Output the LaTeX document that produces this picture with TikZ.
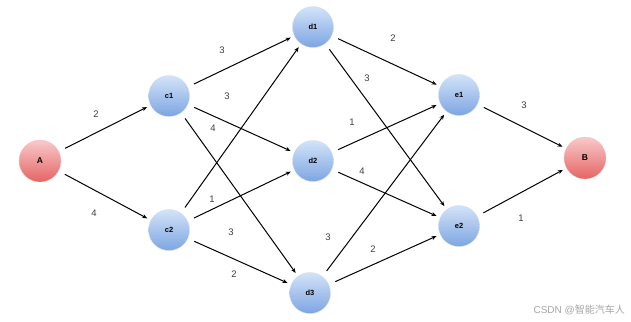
\documentclass[tikz,border=0pt]{standalone}
\usepackage{fontspec}
\setmainfont{Liberation Sans}
\newfontfamily\cjkfont{Noto Sans CJK SC}
\usetikzlibrary{arrows.meta}
\definecolor{bluetop}{HTML}{D3E3F8}
\definecolor{bluebot}{HTML}{7DA5E2}
\definecolor{redtop}{HTML}{F8CACA}
\definecolor{redbot}{HTML}{E56464}
\definecolor{labgray}{HTML}{404040}
\tikzset{
  bnode/.style={circle, minimum size=41pt, inner sep=0pt, top color=bluetop, bottom color=bluebot, draw=bluebot!40, line width=0.3pt, font=\fontsize{7.5}{8}\selectfont\bfseries},
  rnode/.style={circle, minimum size=42pt, inner sep=0pt, top color=redtop, bottom color=redbot, draw=redbot!40, line width=0.3pt, font=\fontsize{8.5}{9}\selectfont\bfseries},
  edge/.style={draw=black, line width=1pt, -{Stealth[length=5pt,width=4pt]}, shorten <=7pt, shorten >=4pt},
  wlab/.style={text=labgray, font=\fontsize{9.5}{10}\selectfont, inner sep=0pt}
}
\begin{document}
\begin{tikzpicture}[x=1pt,y=-1pt]
\useasboundingbox (0,0) rectangle (631,321);
\fill[white] (0,0) rectangle (631,321);
\node[rnode] (A) at (40,161) {A};
\node[bnode] (c1) at (169,96) {c1};
\node[bnode] (c2) at (169,230) {c2};
\node[bnode] (d1) at (313,27) {d1};
\node[bnode] (d2) at (313,161) {d2};
\node[bnode] (d3) at (310,293) {d3};
\node[bnode] (e1) at (459,95) {e1};
\node[bnode] (e2) at (459,226) {e2};
\node[rnode] (B) at (585,158) {B};

\draw[edge] (A) -- (c1);
\draw[edge] (A) -- (c2);
\draw[edge] (c1) -- (d1);
\draw[edge] (c1) -- (d2);
\draw[edge] (c1) -- (d3);
\draw[edge] (c2) -- (d1);
\draw[edge] (c2) -- (d2);
\draw[edge] (c2) -- (d3);
\draw[edge] (d1) -- (e1);
\draw[edge] (d1) -- (e2);
\draw[edge] (d2) -- (e1);
\draw[edge] (d2) -- (e2);
\draw[edge] (d3) -- (e1);
\draw[edge] (d3) -- (e2);
\draw[edge] (e1) -- (B);
\draw[edge] (e2) -- (B);

\node[wlab] (l1) at (96,114) {2};
\node[wlab] (l2) at (94,213) {4};
\node[wlab] (l3) at (222,50) {3};
\node[wlab] (l4) at (227,96) {3};
\node[wlab] (l5) at (213,128) {4};
\node[wlab] (l6) at (212,199) {1};
\node[wlab] (l7) at (231,232) {3};
\node[wlab] (l8) at (234,274) {2};
\node[wlab] (l9) at (393,38) {2};
\node[wlab] (l10) at (367,78) {3};
\node[wlab] (l11) at (352,122) {1};
\node[wlab] (l12) at (362,171) {4};
\node[wlab] (l13) at (328,237) {3};
\node[wlab] (l14) at (373,249) {2};
\node[wlab] (l15) at (524,105) {3};
\node[wlab] (l16) at (521,218) {1};

\node[anchor=east, inner sep=0pt, text=black!35, font=\fontsize{10}{11}\selectfont] (wm) at (625,310) {CSDN @{\cjkfont 智能汽车人}};
\end{tikzpicture}
\end{document}
